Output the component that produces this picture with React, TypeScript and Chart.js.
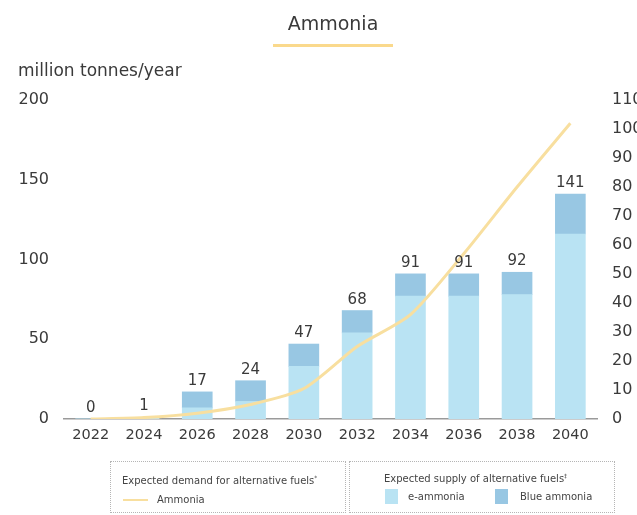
import React, { useEffect, useRef } from "react";
import { Chart, registerables } from "chart.js";

Chart.register(...registerables);

const years = ["2022", "2024", "2026", "2028", "2030", "2032", "2034", "2036", "2038", "2040"];
const eAmmonia = [0, 0.5, 7, 11, 33, 54, 77, 77, 78, 116];
const blueAmmonia = [0, 0.5, 10, 13, 14, 14, 14, 14, 14, 25];
const barTotals = [0, 1, 17, 24, 47, 68, 91, 91, 92, 141];
const demandAmmonia = [0, 0.5, 2, 5, 10.5, 25, 36, 57, 80, 102];

const FONT = "'DejaVu Sans', sans-serif";
const TEXT = "#3a3a3a";
const E_COLOR = "#b9e3f3";
const BLUE_COLOR = "#98c7e3";
const LINE_COLOR = "#f8df9f";

const valueLabels = {
  id: "valueLabels",
  afterDatasetsDraw(chart: any) {
    const { ctx } = chart;
    const xs = chart.scales.x;
    const ys = chart.scales.y;
    ctx.save();
    ctx.font = `15px ${FONT}`;
    ctx.fillStyle = TEXT;
    ctx.textAlign = "center";
    ctx.textBaseline = "alphabetic";
    barTotals.forEach((t, i) => {
      const top = eAmmonia[i] + blueAmmonia[i];
      const x = xs.getPixelForValue(i);
      const y = ys.getPixelForValue(top) - 7;
      ctx.fillText(String(t), x, y);
    });
    ctx.restore();
  },
};

export default function App() {
  const ref = useRef<HTMLCanvasElement | null>(null);

  useEffect(() => {
    if (!ref.current) return;
    const chart = new Chart(ref.current, {
      type: "bar",
      data: {
        labels: years,
        datasets: [
          {
            type: "line",
            label: "Ammonia",
            data: demandAmmonia,
            yAxisID: "y1",
            borderColor: LINE_COLOR,
            backgroundColor: LINE_COLOR,
            borderWidth: 3,
            pointRadius: 0,
            tension: 0.25,
            order: 0,
          } as any,
          {
            label: "e-ammonia",
            data: eAmmonia,
            backgroundColor: E_COLOR,
            yAxisID: "y",
            stack: "s",
            barThickness: 30,
            order: 1,
          },
          {
            label: "Blue ammonia",
            data: blueAmmonia,
            backgroundColor: BLUE_COLOR,
            yAxisID: "y",
            stack: "s",
            barThickness: 30,
            order: 1,
          },
        ],
      },
      options: {
        animation: false,
        responsive: false,
        devicePixelRatio: 1,
        layout: { padding: { top: 100, left: 0, right: 0, bottom: 0 } },
        plugins: {
          legend: { display: false },
          tooltip: { enabled: false },
          title: { display: false },
        },
        scales: {
          x: {
            stacked: true,
            grid: { display: false, drawTicks: false },
            border: { display: true, color: "#9a9a9a", width: 1.5 },
            ticks: { font: { family: FONT, size: 14.5 }, color: TEXT, padding: 8 },
            afterFit: (s: any) => {
              s.height = 96;
            },
          },
          y: {
            stacked: true,
            position: "left",
            min: 0,
            max: 200,
            grid: { display: false, drawTicks: false },
            border: { display: false },
            ticks: { stepSize: 50, font: { family: FONT, size: 16 }, color: TEXT, padding: 15 },
            afterFit: (s: any) => {
              s.width = 64;
            },
          },
          y1: {
            position: "right",
            min: 0,
            max: 110,
            grid: { display: false, drawTicks: false },
            border: { display: false },
            ticks: { stepSize: 10, font: { family: FONT, size: 16 }, color: TEXT, padding: 15 },
            afterFit: (s: any) => {
              s.width = 40;
            },
          },
        },
      },
      plugins: [valueLabels],
    });
    return () => chart.destroy();
  }, []);

  const box: React.CSSProperties = {
    position: "absolute",
    top: 461,
    height: 52,
    border: "1px dotted #b5b5b5",
    boxSizing: "border-box",
    fontSize: 10,
    color: "#444",
  };

  return (
    <div
      style={{
        position: "absolute",
        left: 0,
        top: 0,
        width: 637,
        height: 515,
        overflow: "hidden",
        fontFamily: FONT,
        background: "#fff",
      }}
    >
      <canvas ref={ref} width={637} height={515} style={{ position: "absolute", left: 0, top: 0, width: 637, height: 515 }} />
      <div
        style={{
          position: "absolute",
          left: 273,
          width: 120,
          top: 10,
          textAlign: "center",
          fontSize: 19,
          color: TEXT,
          lineHeight: "26px",
        }}
      >
        Ammonia
      </div>
      <div style={{ position: "absolute", left: 273, top: 44, width: 120, height: 3, background: "#fad98c" }} />
      <div style={{ position: "absolute", left: 18, top: 59, fontSize: 17, color: TEXT, lineHeight: "22px", whiteSpace: "nowrap" }}>
        million tonnes/year
      </div>

      <div style={{ ...box, left: 110, width: 236 }}>
        <div style={{ position: "absolute", left: 11, top: 10, whiteSpace: "nowrap", lineHeight: "12px" }}>
          Expected demand for alternative fuels<sup style={{ fontSize: 6 }}>*</sup>
        </div>
        <div style={{ position: "absolute", left: 12, top: 37, width: 25, height: 2, background: LINE_COLOR }} />
        <div style={{ position: "absolute", left: 46, top: 32, whiteSpace: "nowrap", lineHeight: "12px" }}>Ammonia</div>
      </div>

      <div style={{ ...box, left: 349, width: 266 }}>
        <div style={{ position: "absolute", left: 34, top: 8, whiteSpace: "nowrap", lineHeight: "12px" }}>
          Expected supply of alternative fuels<sup style={{ fontSize: 6 }}>‡</sup>
        </div>
        <div style={{ position: "absolute", left: 35, top: 27, width: 13, height: 15, background: E_COLOR }} />
        <div style={{ position: "absolute", left: 58, top: 29, whiteSpace: "nowrap", lineHeight: "12px" }}>e-ammonia</div>
        <div style={{ position: "absolute", left: 145, top: 27, width: 13, height: 15, background: BLUE_COLOR }} />
        <div style={{ position: "absolute", left: 170, top: 29, whiteSpace: "nowrap", lineHeight: "12px" }}>Blue ammonia</div>
      </div>
    </div>
  );
}
